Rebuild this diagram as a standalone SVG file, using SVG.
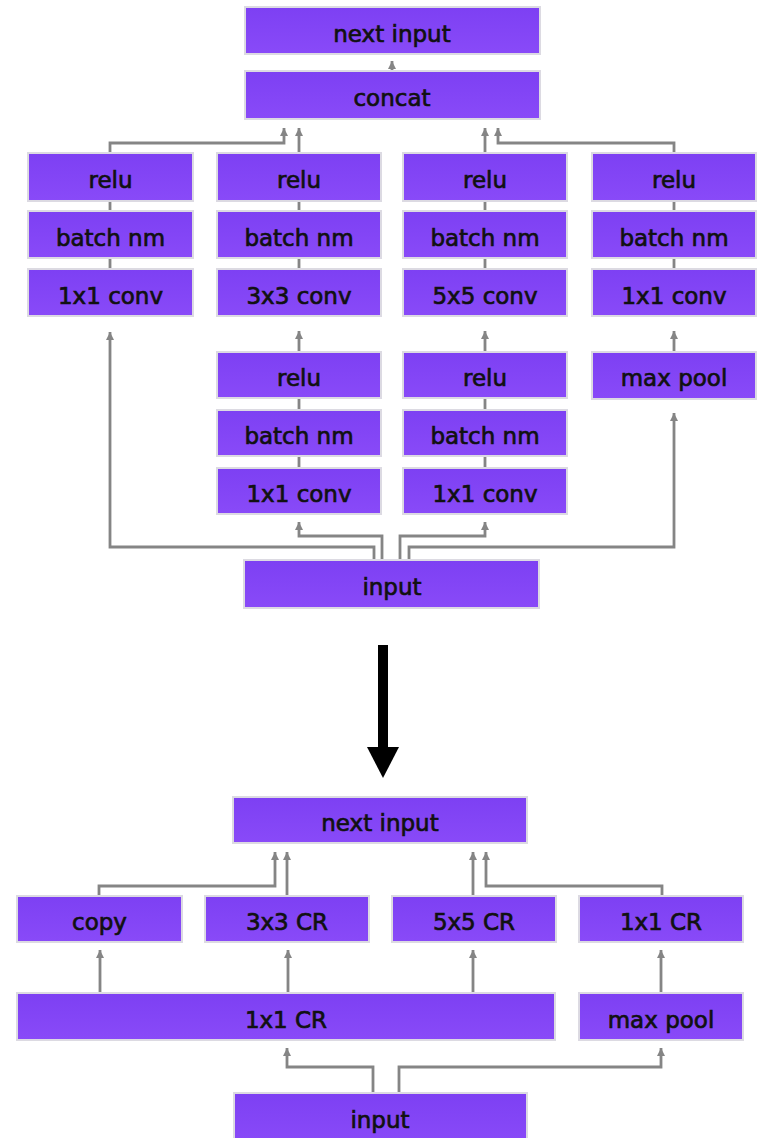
<svg xmlns="http://www.w3.org/2000/svg" width="767" height="1138" viewBox="0 0 767 1138">
  <defs>
    <linearGradient id="boxFill" x1="0" y1="0" x2="0" y2="1">
      <stop offset="0" stop-color="#7d40f3"/>
      <stop offset="1" stop-color="#894af8"/>
    </linearGradient>
    <marker id="arrow" markerUnits="userSpaceOnUse" markerWidth="10" markerHeight="10" refX="8" refY="5" orient="auto">
      <path d="M0,1 L8,5 L0,9 z" fill="#858585"/>
    </marker>
    <style>
      .box { fill: url(#boxFill); stroke: #dcdae2; stroke-width: 2; }
      .lbl { font-family: "DejaVu Sans", Verdana, sans-serif; font-size: 23px; fill: #111111; stroke: #111111; stroke-width: 0.7; text-anchor: middle; }
      .edge { fill: none; stroke: #858585; stroke-width: 2.8; }
      .arr { marker-end: url(#arrow); }
    </style>
  </defs>
  <rect width="767" height="1138" fill="#ffffff"/>

  <!-- connectors -->
  <g id="connectors">
    <!-- upper module -->
    <path class="edge arr" d="M392 71 V61"/>
    <path class="edge arr" d="M110 153 V143 H284 V128"/>
    <path class="edge arr" d="M299 153 V128"/>
    <path class="edge arr" d="M485 153 V128"/>
    <path class="edge arr" d="M674 153 V143 H498 V128"/>
    <path class="edge" d="M110 201 V211 M110 258 V269"/>
    <path class="edge" d="M299 201 V211 M299 258 V269"/>
    <path class="edge" d="M485 201 V211 M485 258 V269"/>
    <path class="edge" d="M674 201 V211 M674 258 V269"/>
    <path class="edge arr" d="M299 352 V331"/>
    <path class="edge arr" d="M485 352 V331"/>
    <path class="edge arr" d="M674 352 V331"/>
    <path class="edge" d="M299 398 V410 M299 456 V468"/>
    <path class="edge" d="M485 398 V410 M485 456 V468"/>
    <path class="edge arr" d="M374 560 V547 H110 V332"/>
    <path class="edge arr" d="M382 560 V536 H299 V522"/>
    <path class="edge arr" d="M400 560 V536 H485 V522"/>
    <path class="edge arr" d="M409 560 V547 H674 V413"/>
    <!-- lower module -->
    <path class="edge arr" d="M99 896 V886 H275 V852"/>
    <path class="edge arr" d="M287 896 V852"/>
    <path class="edge arr" d="M473 896 V852"/>
    <path class="edge arr" d="M662 896 V886 H486 V852"/>
    <path class="edge arr" d="M100 993 V950"/>
    <path class="edge arr" d="M288 993 V950"/>
    <path class="edge arr" d="M473 993 V950"/>
    <path class="edge arr" d="M661 993 V950"/>
    <path class="edge arr" d="M373 1093 V1067 H287 V1048"/>
    <path class="edge arr" d="M399 1093 V1067 H661 V1048"/>
  </g>

  <!-- transformation arrow between the two modules -->
  <g id="transform-arrow">
    <rect x="378" y="645" width="10" height="104" fill="#000"/>
    <polygon points="367,747 399,747 383,778" fill="#000"/>
  </g>

  <!-- upper module nodes -->
  <g id="top-next-input"><rect class="box" x="245" y="7" width="295" height="47"/><text class="lbl" x="392" y="42">next input</text></g>
  <g id="top-concat"><rect class="box" x="245" y="71" width="295" height="48"/><text class="lbl" x="392" y="106">concat</text></g>

  <g id="b1-relu"><rect class="box" x="28" y="153" width="165" height="48"/><text class="lbl" x="110.5" y="188">relu</text></g>
  <g id="b1-bn"><rect class="box" x="28" y="211" width="165" height="47"/><text class="lbl" x="110.5" y="246">batch nm</text></g>
  <g id="b1-conv"><rect class="box" x="28" y="269" width="165" height="47"/><text class="lbl" x="110.5" y="304">1x1 conv</text></g>

  <g id="b2-relu"><rect class="box" x="217" y="153" width="164" height="48"/><text class="lbl" x="299" y="188">relu</text></g>
  <g id="b2-bn"><rect class="box" x="217" y="211" width="164" height="47"/><text class="lbl" x="299" y="246">batch nm</text></g>
  <g id="b2-conv"><rect class="box" x="217" y="269" width="164" height="47"/><text class="lbl" x="299" y="304">3x3 conv</text></g>
  <g id="b2-relu-red"><rect class="box" x="217" y="352" width="164" height="46"/><text class="lbl" x="299" y="386">relu</text></g>
  <g id="b2-bn-red"><rect class="box" x="217" y="410" width="164" height="46"/><text class="lbl" x="299" y="444">batch nm</text></g>
  <g id="b2-conv-red"><rect class="box" x="217" y="468" width="164" height="46"/><text class="lbl" x="299" y="502">1x1 conv</text></g>

  <g id="b3-relu"><rect class="box" x="403" y="153" width="164" height="48"/><text class="lbl" x="485" y="188">relu</text></g>
  <g id="b3-bn"><rect class="box" x="403" y="211" width="164" height="47"/><text class="lbl" x="485" y="246">batch nm</text></g>
  <g id="b3-conv"><rect class="box" x="403" y="269" width="164" height="47"/><text class="lbl" x="485" y="304">5x5 conv</text></g>
  <g id="b3-relu-red"><rect class="box" x="403" y="352" width="164" height="46"/><text class="lbl" x="485" y="386">relu</text></g>
  <g id="b3-bn-red"><rect class="box" x="403" y="410" width="164" height="46"/><text class="lbl" x="485" y="444">batch nm</text></g>
  <g id="b3-conv-red"><rect class="box" x="403" y="468" width="164" height="46"/><text class="lbl" x="485" y="502">1x1 conv</text></g>

  <g id="b4-relu"><rect class="box" x="592" y="153" width="164" height="48"/><text class="lbl" x="674" y="188">relu</text></g>
  <g id="b4-bn"><rect class="box" x="592" y="211" width="164" height="47"/><text class="lbl" x="674" y="246">batch nm</text></g>
  <g id="b4-conv"><rect class="box" x="592" y="269" width="164" height="47"/><text class="lbl" x="674" y="304">1x1 conv</text></g>
  <g id="b4-pool"><rect class="box" x="592" y="352" width="164" height="47"/><text class="lbl" x="674" y="386">max pool</text></g>

  <g id="top-input"><rect class="box" x="244" y="560" width="295" height="48"/><text class="lbl" x="392" y="595">input</text></g>

  <!-- lower module nodes -->
  <g id="bot-next-input"><rect class="box" x="233" y="797" width="294" height="46"/><text class="lbl" x="380" y="831">next input</text></g>
  <g id="bot-copy"><rect class="box" x="17" y="896" width="165" height="46"/><text class="lbl" x="99.5" y="930">copy</text></g>
  <g id="bot-3x3"><rect class="box" x="205" y="896" width="164" height="46"/><text class="lbl" x="287" y="930">3x3 CR</text></g>
  <g id="bot-5x5"><rect class="box" x="392" y="896" width="164" height="46"/><text class="lbl" x="474" y="930">5x5 CR</text></g>
  <g id="bot-1x1"><rect class="box" x="579" y="896" width="164" height="46"/><text class="lbl" x="661" y="930">1x1 CR</text></g>
  <g id="bot-1x1-shared"><rect class="box" x="17" y="993" width="538" height="47"/><text class="lbl" x="286" y="1028">1x1 CR</text></g>
  <g id="bot-pool"><rect class="box" x="579" y="993" width="164" height="47"/><text class="lbl" x="661" y="1028">max pool</text></g>
  <g id="bot-input"><rect class="box" x="234" y="1093" width="293" height="50"/><text class="lbl" x="380" y="1128">input</text></g>
</svg>
